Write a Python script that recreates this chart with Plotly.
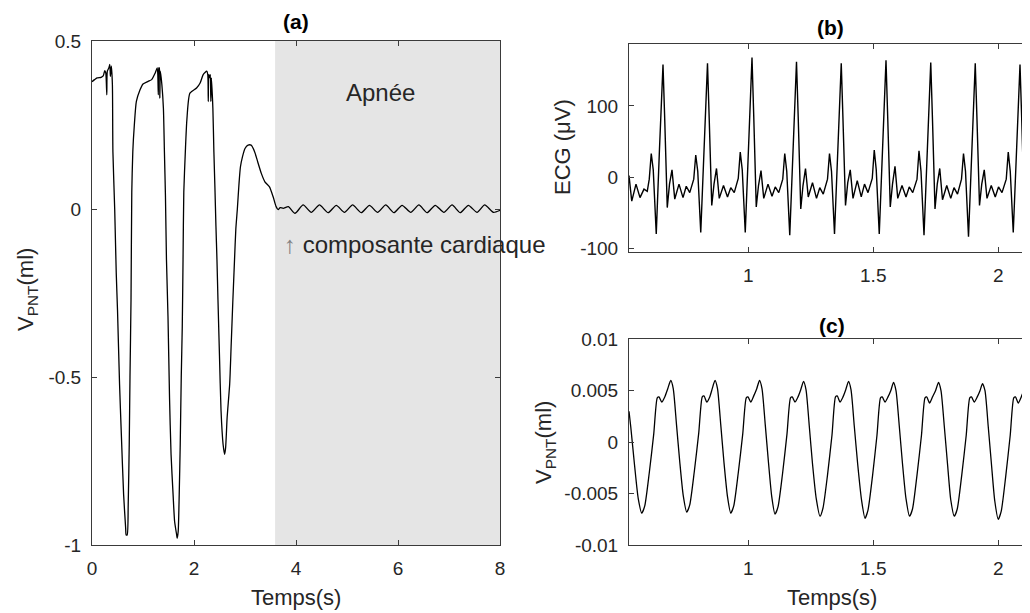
import plotly.graph_objects as go

# ---------------- data: panel (a) respiratory volume ----------------
resp_time = [0.00, 0.05, 0.10, 0.18, 0.22, 0.25, 0.27, 0.29, 0.30, 0.33, 0.35, 0.36, 0.38, 0.40,
             0.41, 0.445, 0.475, 0.50, 0.54, 0.575, 0.62, 0.66, 0.67, 0.69, 0.71, 0.73, 0.745,
             0.765, 0.78, 0.80, 0.83, 0.87, 0.94, 1.00, 1.10, 1.17, 1.24, 1.28, 1.30, 1.31, 1.32,
             1.33, 1.34, 1.37, 1.40, 1.42, 1.44, 1.46, 1.49, 1.52, 1.55, 1.59, 1.62, 1.66, 1.67,
             1.69, 1.71, 1.73, 1.75, 1.77, 1.785, 1.80, 1.83, 1.86, 1.92, 2.05, 2.12, 2.18, 2.25,
             2.27, 2.28, 2.29, 2.31, 2.32, 2.33, 2.34, 2.37, 2.39, 2.41, 2.43, 2.45, 2.47, 2.50,
             2.53, 2.57, 2.60, 2.62, 2.65, 2.70, 2.73, 2.76, 2.795, 2.82, 2.85, 2.88, 2.91, 2.95,
             3.00, 3.06, 3.12, 3.19, 3.25, 3.32, 3.39, 3.48, 3.55, 3.61, 3.65, 3.69, 3.75, 3.85,
             3.98, 4.14, 4.30, 4.46, 4.63, 4.79, 4.95, 5.11, 5.28, 5.44, 5.60, 5.76, 5.92, 6.08,
             6.25, 6.41, 6.57, 6.73, 6.90, 7.06, 7.22, 7.38, 7.55, 7.70, 7.87, 8.00]
resp_ml = [0.379, 0.385, 0.390, 0.392, 0.396, 0.412, 0.405, 0.340, 0.410, 0.420, 0.430, 0.395, 0.425, 0.370,
           0.170, 0.000, -0.190, -0.300, -0.520, -0.670, -0.850, -0.950, -0.970, -0.970, -0.880, -0.700, -0.500,
           -0.270, 0.050, 0.170, 0.250, 0.320, 0.354, 0.372, 0.380, 0.385, 0.405, 0.420, 0.340, 0.420, 0.420,
           0.330, 0.410, 0.370, 0.300, 0.170, 0.040, -0.150, -0.320, -0.560, -0.730, -0.850, -0.930, -0.970, -0.980,
           -0.960, -0.850, -0.700, -0.500, -0.350, -0.150, 0.050, 0.170, 0.265, 0.345, 0.360, 0.375, 0.400, 0.410,
           0.400, 0.320, 0.400, 0.390, 0.400, 0.320, 0.390, 0.300, 0.170, 0.065, -0.050, -0.150, -0.270, -0.440,
           -0.600, -0.700, -0.730, -0.710, -0.620, -0.520, -0.400, -0.280, -0.150, -0.060, 0.000, 0.070, 0.125, 0.155,
           0.180, 0.190, 0.190, 0.170, 0.140, 0.106, 0.081, 0.066, 0.037, 0.007, -0.002, 0.004, 0.002, 0.007,
           -0.013, 0.012, -0.010, 0.012, -0.011, 0.011, -0.010, 0.012, -0.011, 0.011, -0.010, 0.012, -0.011, 0.011,
           -0.010, 0.012, -0.011, 0.011, -0.010, 0.012, -0.011, 0.011, -0.010, 0.012, -0.010, -0.004]

apnea_start, apnea_end = 3.59, 8.0

# ---------------- data: panel (b) ECG ----------------
ecg_time = [0.523, 0.534, 0.551, 0.567, 0.583, 0.596, 0.604,
            0.612, 0.620, 0.632, 0.645, 0.652, 0.659, 0.666, 0.676, 0.685, 0.695, 0.706, 0.723, 0.739, 0.752, 0.766, 0.776, 0.782,
            0.790, 0.798, 0.810, 0.823, 0.830, 0.837, 0.844, 0.854, 0.863, 0.873, 0.884, 0.901, 0.917, 0.930, 0.944, 0.954, 0.960,
            0.968, 0.976, 0.988, 1.001, 1.008, 1.015, 1.022, 1.032, 1.041, 1.051, 1.062, 1.079, 1.095, 1.108, 1.122, 1.132, 1.138,
            1.146, 1.154, 1.166, 1.179, 1.186, 1.193, 1.200, 1.210, 1.219, 1.229, 1.240, 1.257, 1.273, 1.286, 1.300, 1.310, 1.317,
            1.325, 1.333, 1.345, 1.358, 1.365, 1.372, 1.379, 1.389, 1.398, 1.408, 1.419, 1.436, 1.452, 1.465, 1.479, 1.489, 1.496,
            1.504, 1.512, 1.524, 1.537, 1.544, 1.551, 1.558, 1.568, 1.577, 1.587, 1.598, 1.615, 1.631, 1.644, 1.658, 1.668, 1.675,
            1.683, 1.691, 1.703, 1.716, 1.723, 1.730, 1.737, 1.747, 1.756, 1.766, 1.777, 1.794, 1.810, 1.823, 1.837, 1.847, 1.853,
            1.861, 1.869, 1.881, 1.894, 1.901, 1.908, 1.915, 1.925, 1.934, 1.944, 1.955, 1.972, 1.988, 2.001, 2.015, 2.025, 2.032,
            2.040, 2.048, 2.060, 2.073, 2.080, 2.087, 2.094, 2.104, 2.113, 2.123, 2.132]
ecg_uv = [2, -34, -10, -29, -17, -20, -3,
          33, 10, -80, 40, 110, 158, 80, -43, -10, 10, -31, -10, -29, -13, -22, -10, -3,
          31, 8, -78, 40, 110, 160, 80, -40, -10, 12, -30, -12, -28, -15, -22, -10, -2,
          35, 10, -78, 45, 115, 168, 85, -42, -12, 9, -30, -10, -27, -14, -22, -10, -3,
          33, 8, -82, 40, 110, 162, 82, -45, -12, 12, -28, -8, -30, -15, -24, -12, -3,
          33, 8, -80, 40, 110, 160, 80, -40, -8, 10, -30, -5, -28, -10, -22, -10, -2,
          38, 10, -80, 42, 112, 164, 82, -42, -10, 15, -30, -12, -28, -14, -22, -10, -3,
          37, 8, -82, 40, 110, 161, 80, -45, -10, 12, -32, -12, -30, -15, -24, -10, -3,
          33, 8, -84, 40, 110, 160, 80, -40, -10, 10, -30, -12, -28, -14, -22, -10, -3,
          35, 8, -78, 40, 110, 158, 80, -43, -10, 11, -20]

# ---------------- data: panel (c) cardiac component of volume ----------------
card_time = [0.523, 0.530, 0.545, 0.560, 0.574, 0.586, 0.604, 0.622, 0.636, 0.643, 0.654, 0.666, 0.678,
             0.690, 0.700, 0.713, 0.726, 0.740, 0.754, 0.766, 0.784, 0.802, 0.816, 0.823, 0.834, 0.846, 0.856,
             0.867, 0.877, 0.890, 0.903, 0.917, 0.930, 0.942, 0.960, 0.978, 0.992, 0.999, 1.010, 1.022, 1.034,
             1.045, 1.055, 1.068, 1.081, 1.094, 1.107, 1.119, 1.137, 1.155, 1.169, 1.176, 1.187, 1.199, 1.210,
             1.221, 1.231, 1.244, 1.257, 1.272, 1.287, 1.299, 1.317, 1.335, 1.349, 1.356, 1.367, 1.379, 1.390,
             1.401, 1.411, 1.424, 1.438, 1.453, 1.467, 1.479, 1.497, 1.515, 1.529, 1.536, 1.547, 1.559, 1.570,
             1.581, 1.591, 1.604, 1.617, 1.631, 1.645, 1.657, 1.675, 1.693, 1.707, 1.714, 1.725, 1.737, 1.749,
             1.761, 1.771, 1.784, 1.797, 1.810, 1.824, 1.836, 1.854, 1.872, 1.886, 1.893, 1.904, 1.916, 1.927,
             1.937, 1.947, 1.960, 1.973, 1.986, 2.000, 2.012, 2.030, 2.048, 2.062, 2.069, 2.080, 2.092, 2.103,
             2.114, 2.124]
card_ml = [0.0030, 0.0015, -0.0022, -0.0055, -0.0069, -0.0062, -0.0030, 0.0008, 0.0043, 0.0044, 0.0039, 0.0044, 0.0052,
           0.0060, 0.0052, 0.0017, -0.0019, -0.0052, -0.0068, -0.0061, -0.0029, 0.0009, 0.0044, 0.0045, 0.0039, 0.0044, 0.0052,
           0.0060, 0.0052, 0.0017, -0.0020, -0.0053, -0.0069, -0.0062, -0.0030, 0.0008, 0.0043, 0.0044, 0.0039, 0.0045, 0.0052,
           0.0060, 0.0052, 0.0017, -0.0020, -0.0053, -0.0070, -0.0063, -0.0031, 0.0008, 0.0043, 0.0044, 0.0039, 0.0044, 0.0051,
           0.0059, 0.0051, 0.0016, -0.0021, -0.0055, -0.0072, -0.0064, -0.0032, 0.0007, 0.0044, 0.0045, 0.0039, 0.0044, 0.0051,
           0.0059, 0.0051, 0.0016, -0.0022, -0.0056, -0.0074, -0.0066, -0.0033, 0.0007, 0.0043, 0.0044, 0.0039, 0.0044, 0.0050,
           0.0058, 0.0050, 0.0016, -0.0021, -0.0055, -0.0072, -0.0065, -0.0032, 0.0007, 0.0043, 0.0044, 0.0038, 0.0044, 0.0050,
           0.0058, 0.0050, 0.0016, -0.0021, -0.0056, -0.0072, -0.0065, -0.0032, 0.0007, 0.0043, 0.0044, 0.0039, 0.0044, 0.0050,
           0.0057, 0.0050, 0.0015, -0.0022, -0.0057, -0.0075, -0.0067, -0.0033, 0.0007, 0.0043, 0.0044, 0.0038, 0.0044, 0.0051,
           0.0059, 0.0043]

# ---------------- tick labels ----------------
a_xticks = [0, 2, 4, 6, 8]
a_yticks = [-1, -0.5, 0, 0.5]
a_yticktext = ["-1", "-0.5", "0", "0.5"]
bc_xticks = [1, 1.5, 2]
bc_xticktext = ["1", "1.5", "2"]
b_yticks = [-100, 0, 100]
b_yticktext = ["-100", "0", "100"]
c_yticks = [-0.01, -0.005, 0, 0.005, 0.01]
c_yticktext = ["-0.01", "-0.005", "0", "0.005", "0.01"]

# ---------------- figure ----------------
# the page body has an 8 px margin, so the figure is made 8 px smaller and all
# placements are expressed in window pixels shifted by that offset
OFF = 8
W, H = 1030 - OFF, 613 - OFF
FONT = "Liberation Sans, Arial, sans-serif"
TXT = "#262626"
AX = "#3a3a3a"

def px(x):
    return (x - OFF) / W

def py(y):
    return 1 - (y - OFF) / H

fig = go.Figure()
line = dict(color="black", width=1.3, shape="spline", smoothing=0.6)
fig.add_trace(go.Scatter(x=resp_time, y=resp_ml, mode="lines", line=line,
                         xaxis="x", yaxis="y", showlegend=False))
fig.add_trace(go.Scatter(x=ecg_time, y=ecg_uv, mode="lines",
                         line=dict(color="black", width=1.4),
                         xaxis="x2", yaxis="y2", showlegend=False))
fig.add_trace(go.Scatter(x=card_time, y=card_ml, mode="lines", line=line,
                         xaxis="x3", yaxis="y3", showlegend=False))

tickfont = dict(family=FONT, size=19, color=TXT)
common = dict(showgrid=False, zeroline=False, showline=True, linecolor=AX, linewidth=1,
              ticks="inside", ticklen=5, tickcolor=AX, tickwidth=1, tickfont=tickfont,
              automargin=False)

fig.update_layout(
    width=W, height=H, margin=dict(l=0, r=0, t=0, b=0, pad=0, autoexpand=False),
    paper_bgcolor="white", plot_bgcolor="white",
    xaxis=dict(domain=[px(92), px(500)], range=[0, 8], tickvals=a_xticks,
               ticktext=[str(v) for v in a_xticks], anchor="y", mirror="ticks",
               ticklabelstandoff=6, **common),
    yaxis=dict(domain=[py(545), py(41)], range=[-1, 0.5], tickvals=a_yticks,
               ticktext=a_yticktext, anchor="x", mirror="ticks", ticklabelstandoff=6, **common),
    xaxis2=dict(domain=[px(629), 1.0], range=[0.523, 2.127], tickvals=bc_xticks,
                ticktext=bc_xticktext, anchor="y2", mirror="ticks", ticklabelstandoff=6, **common),
    yaxis2=dict(domain=[py(251.7), py(44)], range=[-105, 187], tickvals=b_yticks,
                ticktext=b_yticktext, anchor="x2", mirror=False, ticklabelstandoff=6, **common),
    xaxis3=dict(domain=[px(629), 1.0], range=[0.523, 2.127], tickvals=bc_xticks,
                ticktext=bc_xticktext, anchor="y3", mirror="ticks", ticklabelstandoff=6, **common),
    yaxis3=dict(domain=[py(545), py(339.3)], range=[-0.01, 0.01], tickvals=c_yticks,
                ticktext=c_yticktext, anchor="x3", mirror=False, ticklabelstandoff=6, **common),
)

fig.add_shape(type="rect", xref="x", yref="y", x0=apnea_start, x1=apnea_end, y0=-1, y1=0.5,
              fillcolor="#e5e5e5", line=dict(width=0), layer="below")

ann_font = dict(family=FONT, size=22, color=TXT)
title_font = dict(family=FONT, size=21, color="black")
annotations = [
    dict(text="<b>(a)</b>", x=px(296), y=py(22), font=title_font),
    dict(text="<b>(b)</b>", x=px(830), y=py(27), font=title_font),
    dict(text="<b>(c)</b>", x=px(832), y=py(325), font=title_font),
    dict(text="Temps(s)", x=px(296), y=py(597), font=ann_font),
    dict(text="Temps(s)", x=px(832), y=py(597), font=ann_font),
    dict(text="V<sub>PNT</sub>(ml)", x=px(27), y=py(290), textangle=-90, font=ann_font),
    dict(text="ECG (\u03bcV)", x=px(563), y=py(147), textangle=-90, font=ann_font),
    dict(text="V<sub>PNT</sub>(ml)", x=px(545), y=py(443), textangle=-90, font=ann_font),
]
for a in annotations:
    fig.add_annotation(xref="paper", yref="paper", showarrow=False,
                       xanchor="center", yanchor="middle", **a)

fig.add_annotation(xref="x", yref="y", x=5.65, y=0.348, text="Apnée", showarrow=False,
                   xanchor="center", yanchor="middle", font=dict(family=FONT, size=24, color=TXT))
fig.add_annotation(xref="x", yref="y", x=3.72, y=-0.107,
                   text="<span style='color:#808080'>\u2191</span> composante cardiaque",
                   showarrow=False, xanchor="left", yanchor="middle",
                   font=dict(family=FONT, size=24, color=TXT))

fig.write_html("out.html")
